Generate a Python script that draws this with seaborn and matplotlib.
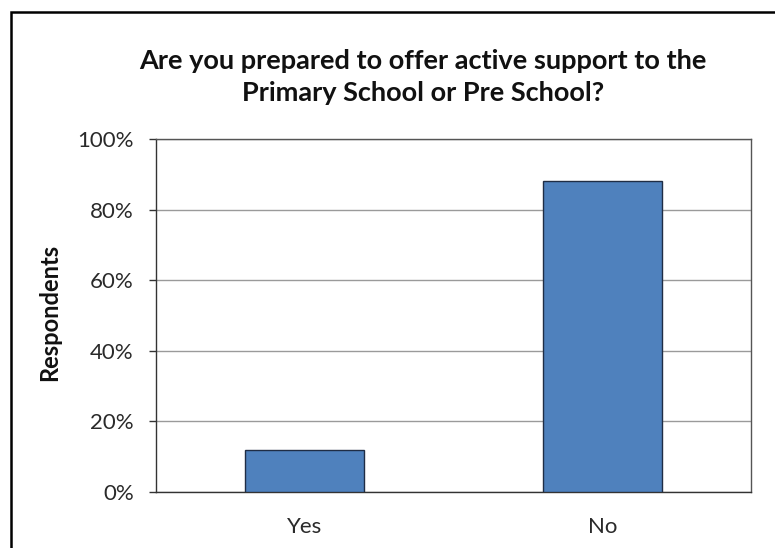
import matplotlib
matplotlib.use("Agg")
import matplotlib.pyplot as plt
import matplotlib.ticker as mticker
from matplotlib.patches import Rectangle
import pandas as pd
import seaborn as sns

# data
categories = ["Yes", "No"]
share_pct = [12, 88]
y_ticks = [0, 20, 40, 60, 80, 100]

TITLE = "Are you prepared to offer active support to the\nPrimary School or Pre School?"
BAR_COLOR = "#4F81BD"
EDGE_COLOR = "#1F2D45"
GRID_COLOR = "#9A9A9A"

sns.set_style("white")
plt.rcParams["font.family"] = ["Lato", "DejaVu Sans"]

df = pd.DataFrame({"answer": categories, "share": share_pct})

fig = plt.figure(figsize=(7.75, 5.48), dpi=100)
ax = fig.add_axes([156 / 775, 1 - 492 / 548, (751 - 156) / 775, (492 - 139) / 548])

sns.barplot(data=df, x="answer", y="share", color=BAR_COLOR, width=0.4,
            edgecolor=EDGE_COLOR, linewidth=1.0, saturation=1, ax=ax, zorder=3)

ax.set_ylim(0, 100)
ax.set_xlim(-0.5, len(categories) - 0.5)
ax.set_yticks(y_ticks)
ax.yaxis.set_major_formatter(mticker.PercentFormatter(100, decimals=0))
ax.yaxis.grid(True, color=GRID_COLOR, linewidth=1.0, zorder=0)
ax.set_axisbelow(True)

# Excel-style ticks: category boundaries on x, outward ticks on y
ax.set_xticks(range(len(categories)))
ax.set_xticklabels(categories)
ax.set_xticks([i - 0.5 for i in range(len(categories) + 1)], minor=True)
ax.tick_params(axis="x", which="major", length=0, pad=18, labelsize=16, colors="#2a2a2a")
ax.tick_params(axis="x", which="minor", length=6, width=1.0, color="#333333", direction="out")
ax.tick_params(axis="y", length=5, width=1.0, color="#333333", direction="out",
               pad=11, labelsize=16, labelcolor="#2a2a2a", left=True)

ax.set_xlabel("")
ax.set_ylabel("")
for side in ["left", "bottom"]:
    ax.spines[side].set_color("#333333")
    ax.spines[side].set_linewidth(1.0)
for side in ["top", "right"]:
    ax.spines[side].set_visible(True)
    ax.spines[side].set_color("#555555")
    ax.spines[side].set_linewidth(1.0)

fig.text(423 / 775, 1 - 77 / 548, TITLE, ha="center", va="center",
         fontsize=19.5, fontweight="bold", linespacing=1.4, color="#111111")
fig.text(50 / 775, 1 - 312 / 548, "Respondents", ha="center", va="center",
         rotation=90, fontsize=17, fontweight="bold", color="#111111")

# outer chart frame (runs off the right and bottom edges)
fig.patches.append(Rectangle((11 / 775, -0.2), 2.0, 1.2 - 12 / 548, transform=fig.transFigure,
                             fill=False, edgecolor="black", linewidth=1.8, clip_on=False))

fig.savefig("out.png", dpi=100)
